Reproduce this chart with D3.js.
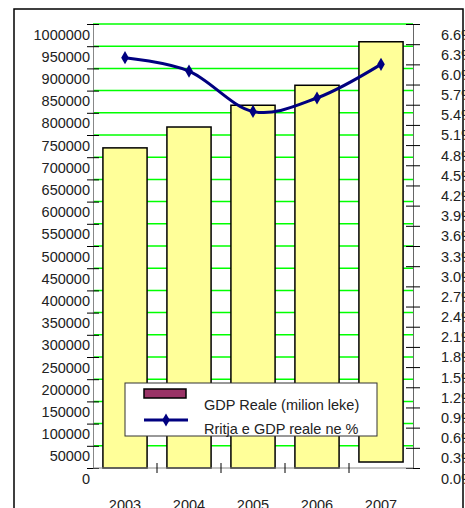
<!DOCTYPE html>
<html>
<head>
<meta charset="utf-8">
<script src="https://cdn.jsdelivr.net/npm/d3@7"></script>
<style>
  body { margin: 0; background: #fff; }
  text { font-family: "Liberation Sans", Arial, sans-serif; }
</style>
</head>
<body>
<div id="chart"></div>
<script>
// chart values
var years = ["2003", "2004", "2005", "2006", "2007"];
var gdpReal = [721000, 768000, 817000, 862000, 960000];
var barBase = [0, 0, 0, 0, 13500];
var growth = [6.1, 5.9, 5.3, 5.5, 6.0];
var leftTicks = d3.range(0, 1000001, 50000);
var rightTicks = d3.range(0, 23).map(function(i) { return +(i * 0.3).toFixed(1); });
var legendLabels = ["GDP Reale (milion leke)", "Rritja e GDP reale ne %"];

var W = 465, H = 508;
var plot = {left: 93, right: 413, top: 24, bottom: 468};

var svg = d3.select("#chart").append("svg")
    .attr("width", W)
    .attr("height", H);

// outer frame
svg.append("rect")
    .attr("x", 14).attr("y", 9)
    .attr("width", 449).attr("height", 520)
    .attr("fill", "#fff")
    .attr("stroke", "#000")
    .attr("stroke-width", 1.5);

// scales
var x = d3.scaleBand().domain(years)
    .range([plot.left, plot.right])
    .paddingInner(0.31).paddingOuter(0.155);
var yL = d3.scaleLinear().domain([0, 1000000]).range([plot.bottom, plot.top]);
var yR = d3.scaleLinear().domain([0, 6.6]).range([plot.bottom, plot.top]);

// gridlines
svg.append("g").selectAll("line")
    .data(leftTicks.filter(function(d) { return d > 0; }))
  .enter().append("line")
    .attr("x1", plot.left).attr("x2", plot.right)
    .attr("y1", function(d) { return yL(d); })
    .attr("y2", function(d) { return yL(d); })
    .attr("stroke", "#00ff00")
    .attr("stroke-width", 1.5);

// bars
svg.append("g").selectAll("rect")
    .data(years)
  .enter().append("rect")
    .attr("x", function(d) { return x(d); })
    .attr("width", x.bandwidth())
    .attr("y", function(d, i) { return yL(gdpReal[i]); })
    .attr("height", function(d, i) { return yL(barBase[i]) - yL(gdpReal[i]); })
    .attr("fill", "#ffff99")
    .attr("stroke", "#000")
    .attr("stroke-width", 1.5);

// left axis
var axL = svg.append("g")
    .attr("transform", "translate(" + plot.left + ",0)")
    .call(d3.axisLeft(yL).tickValues(leftTicks).tickSizeOuter(0).tickFormat(d3.format("d")));
axL.select(".domain").attr("stroke", "#888");
axL.selectAll(".tick line").attr("x1", -6).attr("x2", 6).attr("stroke", "#000");
axL.selectAll(".tick text")
    .attr("x", -3).attr("y", 15).attr("dy", null)
    .attr("font-size", 14.5).attr("fill", "#222");

// right axis
var axR = svg.append("g")
    .attr("transform", "translate(" + plot.right + ",0)")
    .call(d3.axisRight(yR).tickValues(rightTicks).tickSizeOuter(0)
      .tickFormat(function(d) { return d.toFixed(1) + "%"; }));
axR.select(".domain").attr("stroke", "#666");
axR.selectAll(".tick line").attr("x1", -7).attr("x2", 7).attr("stroke", "#000");
axR.selectAll(".tick text")
    .attr("x", 28).attr("y", 15).attr("dy", null)
    .attr("font-size", 14.5).attr("fill", "#222");

// x axis
var axX = svg.append("g")
    .attr("transform", "translate(0," + plot.bottom + ")");
axX.append("line")
    .attr("x1", plot.left).attr("x2", plot.right)
    .attr("stroke", "#888");
axX.selectAll(".sep")
    .data(years.slice(1))
  .enter().append("line")
    .attr("class", "sep")
    .attr("x1", function(d) { return x(d) - x.step() * x.paddingInner() / 2; })
    .attr("x2", function(d) { return x(d) - x.step() * x.paddingInner() / 2; })
    .attr("y1", -5).attr("y2", 5)
    .attr("stroke", "#000");
axX.selectAll("text")
    .data(years)
  .enter().append("text")
    .attr("x", function(d) { return x(d) + x.bandwidth() / 2; })
    .attr("y", 42)
    .attr("text-anchor", "middle")
    .attr("font-size", 14.5)
    .attr("fill", "#222")
    .text(function(d) { return d; });

// growth line
var pts = years.map(function(d, i) { return [x(d) + x.bandwidth() / 2, yR(growth[i])]; });
svg.append("path")
    .attr("d", d3.line().curve(d3.curveCatmullRom.alpha(0))(pts))
    .attr("fill", "none")
    .attr("stroke", "#000080")
    .attr("stroke-width", 3);

var diamond = d3.symbol().type(d3.symbolDiamond).size(50);
svg.append("g").selectAll("path")
    .data(pts)
  .enter().append("path")
    .attr("transform", function(d) { return "translate(" + d[0] + "," + d[1] + ")"; })
    .attr("d", diamond)
    .attr("fill", "#000080");

// legend
var lg = svg.append("g");
lg.append("rect")
    .attr("x", 125).attr("y", 383)
    .attr("width", 252).attr("height", 53)
    .attr("fill", "#fff")
    .attr("stroke", "#333")
    .attr("stroke-width", 1);
lg.append("rect")
    .attr("x", 144).attr("y", 389)
    .attr("width", 42).attr("height", 9)
    .attr("fill", "#993366")
    .attr("stroke", "#000")
    .attr("stroke-width", 1.5);
lg.append("line")
    .attr("x1", 144).attr("x2", 188)
    .attr("y1", 420).attr("y2", 420)
    .attr("stroke", "#000080")
    .attr("stroke-width", 3);
lg.append("path")
    .attr("transform", "translate(166,420)")
    .attr("d", diamond)
    .attr("fill", "#000080");
lg.selectAll("text")
    .data(legendLabels)
  .enter().append("text")
    .attr("x", 204)
    .attr("y", function(d, i) { return 410 + i * 24; })
    .attr("font-size", 14.5)
    .attr("fill", "#222")
    .text(function(d) { return d; });
</script>
</body>
</html>
